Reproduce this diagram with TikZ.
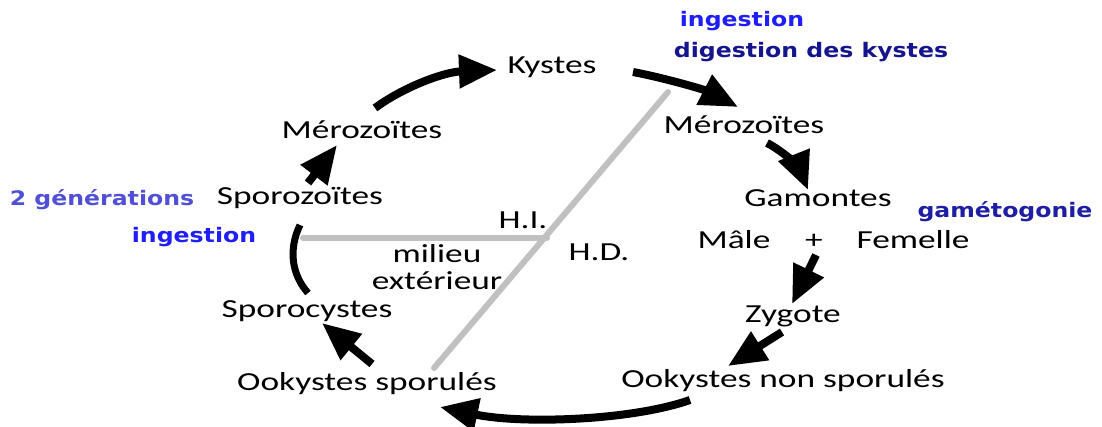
\documentclass[tikz,border=0pt]{standalone}
\usepackage{fontspec}
\setmainfont{Carlito}
\newfontfamily\bluefam{DejaVu Sans}
\usetikzlibrary{arrows.meta,calc}
\definecolor{bgen}{RGB}{80,80,215}
\definecolor{bing}{RGB}{30,30,245}
\definecolor{bdig}{RGB}{20,20,140}
\definecolor{bgam}{RGB}{30,30,165}
\definecolor{gline}{RGB}{192,192,192}
\newcommand\bt[1]{\scalebox{1.36}[1]{#1}}
\newcommand\blt[1]{\scalebox{1.18}[1]{\bluefam\bfseries #1}}
\begin{document}
\begin{tikzpicture}[x=1pt,y=-1pt,
 lbl/.style={inner sep=0pt, anchor=base, font=\fontsize{26}{30}\selectfont},
 blbl/.style={inner sep=0pt, anchor=base, font=\fontsize{20}{24}\selectfont},
 cyc/.style={line width=8pt, -{Triangle[length=38pt,width=32pt]}},
 cycplain/.style={line width=7pt},
 sep/.style={draw=gline, line width=6pt, line cap=round}]
\useasboundingbox (0,0) rectangle (1102,426);

% grey separators
\coordinate (dtop) at (668,92);
\coordinate (dbot) at (434,368);
\coordinate (hl) at (303,238);
\coordinate (hr) at (547,238);
\draw[sep] (dtop) -- (dbot);
\draw[sep] (hl) -- (hr);

% black labels
\node[lbl] (kys) at (552,73) {\bt{Kystes}};
\node[lbl] (merL) at (362,138) {\bt{Mérozoïtes}};
\node[lbl] (merR) at (744,133) {\bt{Mérozoïtes}};
\node[lbl] (spz) at (300,204) {\bt{Sporozoïtes}};
\node[lbl] (gam) at (818,206) {\bt{Gamontes}};
\node[lbl] (male) at (734,248) {\bt{Mâle}};
\node[lbl] (plus) at (814,248) {\bt{+}};
\node[lbl] (fem) at (913,248) {\bt{Femelle}};
\node[lbl] (hi) at (523,228) {\bt{H.I.}};
\node[lbl] (hd) at (599,260) {\bt{H.D.}};
\node[lbl] (mil) at (437,262) {\bt{milieu}};
\node[lbl] (ext) at (437,289) {\bt{extérieur}};
\node[lbl] (spc) at (307,317) {\bt{Sporocystes}};
\node[lbl] (zyg) at (793,322) {\bt{Zygote}};
\node[lbl] (os) at (367,390) {\bt{Ookystes sporulés}};
\node[lbl] (ons) at (783,387) {\bt{Ookystes non sporulés}};

% blue labels
\node[blbl, text=bing] (ing1) at (742,26) {\blt{ingestion}};
\node[blbl, text=bdig] (dig) at (811,57) {\blt{digestion des kystes}};
\node[blbl, text=bgen] (gen) at (102,205) {\blt{2 générations}};
\node[blbl, text=bing] (ing2) at (194,242) {\blt{ingestion}};
\node[blbl, text=bgam] (gmt) at (1005,217) {\blt{gamétogonie}};

% cycle arrows
\draw[cyc] ($(merL.base)+(13,-30)$) .. controls (405,86) and (445,72) .. ($(kys.base)+(-55,-3)$);
\draw[cyc] ($(kys.base)+(81,-1)$) .. controls (665,78) and (705,90) .. ($(merR.base)+(-6,-26)$);
\draw[cyc] ($(merR.base)+(23,10)$) .. controls (785,152) and (800,170) .. ($(gam.base)+(-10,-16)$);
\draw[cyc] ($(plus.base)+(2,7)$) -- ($(zyg.base)+(-1,-18)$);
\draw[cyc] ($(zyg.base)+(-11,10)$) -- ($(ons.base)+(-55,-21)$);
\draw[cyc] ($(ons.base)+(-93,13)$) .. controls (630,421) and (520,424) .. ($(os.base)+(73,17)$);
\draw[cyc] ($(os.base)+(5,-26)$) -- ($(spc.base)+(15,6)$);
\draw[cycplain] ($(spz.base)+(0,21)$) .. controls (288,250) and (292,275) .. ($(spc.base)+(1,-24)$);
\draw[cyc] ($(spz.base)+(8,-21)$) -- ($(merL.base)+(-25,7)$);
\end{tikzpicture}
\end{document}
